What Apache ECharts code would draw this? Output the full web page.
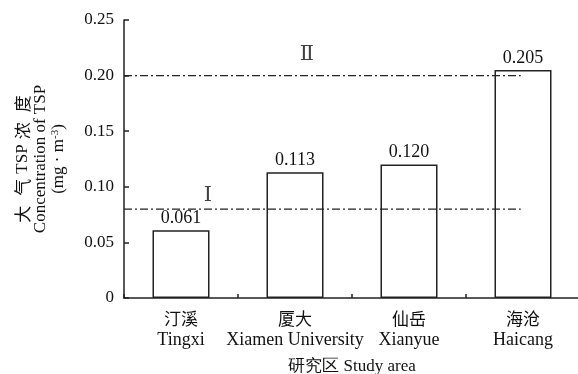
<!DOCTYPE html>
<html>
<head>
<meta charset="utf-8">
<script src="https://cdn.jsdelivr.net/npm/echarts@6/dist/echarts.min.js"></script>
<style>html,body{margin:0;padding:0;background:#fff;}#c{width:578px;height:374px;}</style>
</head>
<body>
<div id="c"></div>
<script>
var categoriesZh = ['汀溪', '厦大', '仙岳', '海沧'];
var categoriesEn = ['Tingxi', 'Xiamen University', 'Xianyue', 'Haicang'];
var tspValues = [0.061, 0.113, 0.120, 0.205];
var standardLevels = [0.08, 0.20];
var standardNames = ['Ⅰ', 'Ⅱ'];
var standardLabelPos = [0.737, 1.605];
var standardLabelGap = [2, 10];
var standardLineEnd = 3.48;
var yTicks = [0, 0.05, 0.10, 0.15, 0.20, 0.25];

var serif = '"Liberation Serif", "Times New Roman", serif';
var cjk = '"Noto Sans CJK SC", "Liberation Serif", serif';

var categories = categoriesZh.map(function (z, i) { return z + '\n' + categoriesEn[i]; });

var stdSeries = standardLevels.map(function (lv) {
  return {
    type: 'line',
    xAxisIndex: 1,
    yAxisIndex: 0,
    symbol: 'none',
    z: 5,
    silent: true,
    lineStyle: { color: '#222', width: 1.2, type: [8, 3, 2, 3] },
    data: [[0, lv], [standardLineEnd, lv]]
  };
});

var stdLabelSeries = {
  type: 'scatter',
  xAxisIndex: 1,
  yAxisIndex: 0,
  symbolSize: 1,
  itemStyle: { color: 'rgba(0,0,0,0)' },
  silent: true,
  z: 6,
  label: {
    show: true, position: 'top',
    fontFamily: '"DejaVu Serif", "Noto Sans CJK SC", serif', fontSize: 21, color: '#111',
    formatter: function (p) { return standardNames[p.dataIndex]; }
  },
  data: standardLevels.map(function (lv, i) {
    return { value: [standardLabelPos[i], lv], label: { distance: standardLabelGap[i] } };
  })
};

var chart = echarts.init(document.getElementById('c'), null, { renderer: 'canvas' });
chart.setOption({
  animation: false,
  backgroundColor: '#fff',
  grid: { left: 124, top: 20, width: 456, height: 278, containLabel: false, outerBoundsMode: 'none' },
  xAxis: [{
    type: 'category',
    data: categories,
    boundaryGap: true,
    axisLine: { lineStyle: { color: '#222', width: 1.5 } },
    axisTick: { show: true, inside: true, length: 4, alignWithLabel: false, lineStyle: { color: '#222', width: 1.5 } },
    axisLabel: {
      interval: 0,
      margin: 10,
      formatter: function (v) { var p = v.split('\n'); return '{zh|' + p[0] + '}\n{en|' + p[1] + '}'; },
      rich: {
        zh: { fontFamily: cjk, fontSize: 17, color: '#111', lineHeight: 22 },
        en: { fontFamily: serif, fontSize: 18, color: '#111', lineHeight: 21 }
      }
    },
    name: '研究区 Study area',
    nameLocation: 'middle',
    nameGap: 60,
    nameTextStyle: { fontFamily: serif, fontSize: 17, color: '#111' }
  }, {
    type: 'value',
    min: 0,
    max: 4,
    show: false
  }],
  yAxis: {
    type: 'value',
    min: 0,
    max: 0.25,
    interval: 0.05,
    splitLine: { show: false },
    axisLine: { show: true, lineStyle: { color: '#222', width: 1.5 } },
    axisTick: { show: true, inside: true, length: 5, lineStyle: { color: '#222', width: 1.5 } },
    axisLabel: {
      margin: 10,
      fontFamily: serif, fontSize: 17, color: '#111',
      formatter: function (v) { return v === 0 ? '0' : v.toFixed(2); }
    },
    name: '{zh|大}{zh|气}{en|TSP}{zh|浓}{zh|度}\n{en|Concentration of TSP}\n{en|(mg · m}{sup|-3}{en|)}',
    nameLocation: 'middle',
    nameRotate: 90,
    nameGap: 56,
    nameTextStyle: {
      rich: {
        zh: { fontFamily: cjk, fontSize: 17, color: '#111', lineHeight: 18, padding: [0, 5, 0, 5] },
        en: { fontFamily: serif, fontSize: 17, color: '#111', lineHeight: 18 },
        sup: { fontFamily: serif, fontSize: 11, color: '#111', lineHeight: 18, verticalAlign: 'top', padding: [0, 0, 8, 0] }
      }
    }
  },
  series: [{
    type: 'bar',
    data: tspValues,
    barWidth: '50%',
    itemStyle: { color: '#fff', borderColor: '#222', borderWidth: 1.5 },
    label: {
      show: true, position: 'top', distance: 3,
      fontFamily: serif, fontSize: 18, color: '#111',
      formatter: function (p) { return p.value.toFixed(3); }
    },
    z: 2
  }].concat(stdSeries, [stdLabelSeries])
});
</script>
</body>
</html>
